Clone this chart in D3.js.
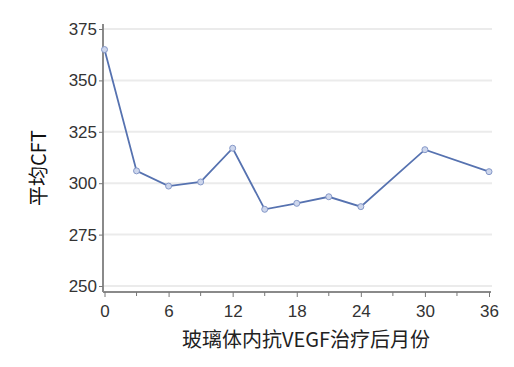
<!DOCTYPE html>
<html>
<head>
<meta charset="utf-8">
<script src="https://cdn.jsdelivr.net/npm/d3@7"></script>
<style>
  body { margin: 0; background: #fff; }
  svg { display: block; }
</style>
</head>
<body>
<div id="chart"></div>
<script>
// data
const months = [0, 3, 6, 9, 12, 15, 18, 21, 24, 30, 36];
const cft = [365, 306, 298.6, 300.6, 317, 287.3, 290.2, 293.4, 288.6, 316.3, 305.6];
const yTicks = [250, 275, 300, 325, 350, 375];
const xLabelTicks = [0, 6, 12, 18, 24, 30, 36];
const xMinorTicks = [3, 9, 15, 21, 27, 33];

const width = 514, height = 367;
const tickFont = "'Liberation Sans', Arial, sans-serif";

const svg = d3.select("#chart").append("svg")
    .attr("width", width)
    .attr("height", height);

const x = d3.scaleLinear([0, 36], [104.5, 489]);
const y = d3.scaleLinear([250, 375], [286, 29]);

// gridlines
svg.append("g")
    .selectAll("line")
    .data(yTicks)
    .join("line")
    .attr("x1", 104).attr("x2", 492)
    .attr("y1", d => y(d)).attr("y2", d => y(d))
    .attr("stroke", "#ebebeb")
    .attr("stroke-width", 2);

// y axis
const axisY = svg.append("g")
    .attr("transform", "translate(103,0)")
    .call(d3.axisLeft(y).tickValues(yTicks).tickSize(4).tickSizeOuter(0));
axisY.attr("font-family", null).attr("font-size", null);
axisY.select(".domain").attr("stroke", "#8a8a8a").attr("stroke-width", 2)
    .attr("d", "M0,24V292");
axisY.selectAll(".tick line").attr("stroke", "#777");
axisY.selectAll("text")
    .attr("fill", "#333")
    .attr("x", -6)
    .style("font-family", tickFont)
    .style("font-size", "17px");

// x axis
const axisX = svg.append("g")
    .attr("transform", "translate(0,292)")
    .call(d3.axisBottom(x).tickValues(xLabelTicks).tickSize(5).tickPadding(8).tickSizeOuter(0));
axisX.attr("font-family", null).attr("font-size", null);
axisX.select(".domain").attr("stroke", "#8a8a8a").attr("stroke-width", 2)
    .attr("d", `M103,0H${x(36) + 2}`);
axisX.selectAll(".tick line").attr("stroke", "#777");
axisX.selectAll("text")
    .attr("fill", "#333")
    .style("font-family", tickFont)
    .style("font-size", "17px");

svg.append("g")
    .attr("transform", "translate(0,292)")
    .selectAll("line")
    .data(xMinorTicks)
    .join("line")
    .attr("x1", d => x(d)).attr("x2", d => x(d))
    .attr("y1", 0).attr("y2", 4)
    .attr("stroke", "#777");

// line + markers
const points = months.map((m, i) => [m, cft[i]]);
svg.append("path")
    .datum(points)
    .attr("fill", "none")
    .attr("stroke", "#5672b0")
    .attr("stroke-width", 1.8)
    .attr("d", d3.line(d => x(d[0]), d => y(d[1])));

svg.append("g")
    .selectAll("circle")
    .data(points)
    .join("circle")
    .attr("cx", d => x(d[0]))
    .attr("cy", d => y(d[1]))
    .attr("r", 3)
    .attr("fill", "#cdd6ec")
    .attr("stroke", "#8598c8")
    .attr("stroke-width", 1);

// axis labels
svg.append("text")
    .attr("transform", "translate(46,168)rotate(-90)")
    .attr("text-anchor", "middle")
    .style("font-family", "'Noto Sans CJK SC', sans-serif")
    .style("font-size", "20px")
    .attr("fill", "#111")
    .text("平均CFT");

svg.append("text")
    .attr("x", 306)
    .attr("y", 347)
    .attr("text-anchor", "middle")
    .style("font-family", "'Noto Sans CJK SC', serif")
    .style("font-size", "20px")
    .attr("fill", "#222")
    .text("玻璃体内抗VEGF治疗后月份");
</script>
</body>
</html>
